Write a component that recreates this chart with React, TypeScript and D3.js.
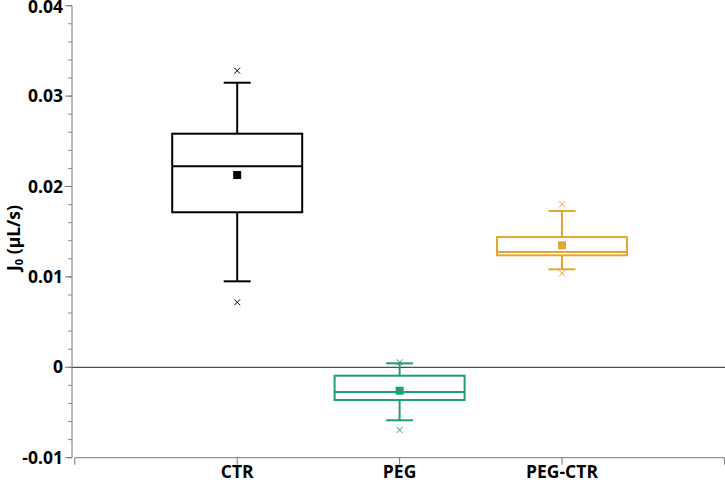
import React from "react";
import * as d3 from "d3";

const categories = ["CTR", "PEG", "PEG-CTR"];
const colors = ["#000000", "#1d9e74", "#e5a532"];
const whiskerLow = [0.00951, -0.00586, 0.01084];
const q1 = [0.01715, -0.00362, 0.01239];
const medians = [0.02223, -0.00273, 0.01275];
const q3 = [0.02584, -0.00093, 0.01441];
const whiskerHigh = [0.03148, 0.00044, 0.01729];
const means = [0.02127, -0.00259, 0.0135];
const outlierLow = [0.00719, -0.00694, 0.0104];
const outlierHigh = [0.03281, 0.00055, 0.01803];
const yTicks = [-0.01, 0, 0.01, 0.02, 0.03, 0.04];
const yTickLabels = ["-0.01", "0", "0.01", "0.02", "0.03", "0.04"];

export default function App() {
  const W = 725, H = 483;
  const axisX = 72;
  const x = d3.scaleLinear().domain([0, 4]).range([74.8, 724.4]);
  const y = d3.scaleLinear().domain([-0.01, 0.04]).range([457.7, 5.7]);
  const minorTicks = d3.range(-0.01, 0.0401, 0.002).map((v) => Math.round(v * 1000) / 1000);
  const boxHalf = 65;
  const capHalf = 13.5;
  const font = "'Open Sans', 'Noto Sans', sans-serif";
  const fs = 17.5;
  return (
    <svg width={W} height={H} style={{ position: "absolute", left: 0, top: 0 }}>
      <rect width={W} height={H} fill="#fff" />
      {/* zero line */}
      <line x1={axisX} x2={W} y1={y(0)} y2={y(0)} stroke="#222" strokeWidth={1} />
      {/* y axis */}
      <line x1={axisX} x2={axisX} y1={y(0.04)} y2={y(-0.01)} stroke="#777" strokeWidth={1} />
      {minorTicks.map((v, i) => (
        <line key={"m" + i} x1={axisX - 4} x2={axisX} y1={y(v)} y2={y(v)} stroke="#888" strokeWidth={1} />
      ))}
      {yTicks.map((v, i) => (
        <g key={"t" + i}>
          <line x1={axisX - 7} x2={axisX} y1={y(v)} y2={y(v)} stroke="#777" strokeWidth={1} />
          <text x={axisX - 9} y={y(v)} dy={i === yTicks.length - 1 ? "0.42em" : "0.35em"} textAnchor="end" fontFamily={font} fontWeight="bold" fontSize={fs} fill="#000">
            {yTickLabels[i]}
          </text>
        </g>
      ))}
      {/* x axis */}
      <line x1={x(0)} x2={x(4)} y1={y(-0.01)} y2={y(-0.01)} stroke="#777" strokeWidth={1} />
      {[0, 1, 2, 3, 4].map((v) => (
        <line key={"xt" + v} x1={x(v)} x2={x(v)} y1={y(-0.01)} y2={y(-0.01) + 7} stroke="#777" strokeWidth={1} />
      ))}
      {categories.map((c, i) => (
        <text key={"xl" + i} x={x(i + 1)} y={478} textAnchor="middle" fontFamily={font} fontWeight="bold" fontSize={fs} fill="#000">
          {c}
        </text>
      ))}
      <text transform={`translate(20, 238) rotate(-90)`} textAnchor="middle" fontFamily={font} fontWeight="bold" fontSize={fs} fill="#000">
        J<tspan fontSize={11} dy={3}>0</tspan><tspan dy={-3}> (µL/s)</tspan>
      </text>
      {/* boxes */}
      {categories.map((c, i) => {
        const cx = x(i + 1);
        const col = colors[i];
        const sw = 2;
        return (
          <g key={"b" + i} stroke={col} fill="none" strokeWidth={sw}>
            <line x1={cx} x2={cx} y1={y(q3[i])} y2={y(whiskerHigh[i])} />
            <line x1={cx} x2={cx} y1={y(q1[i])} y2={y(whiskerLow[i])} />
            <line x1={cx - capHalf} x2={cx + capHalf} y1={y(whiskerHigh[i])} y2={y(whiskerHigh[i])} />
            <line x1={cx - capHalf} x2={cx + capHalf} y1={y(whiskerLow[i])} y2={y(whiskerLow[i])} />
            <rect x={cx - boxHalf} y={y(q3[i])} width={boxHalf * 2} height={y(q1[i]) - y(q3[i])} fill="#fff" />
            <line x1={cx - boxHalf} x2={cx + boxHalf} y1={y(medians[i])} y2={y(medians[i])} />
            <rect x={cx - 4} y={y(means[i]) - 4} width={8} height={8} fill={col} stroke="none" />
            {[outlierLow[i], outlierHigh[i]].map((v, k) => (
              <g key={k} strokeWidth={1}>
                <line x1={cx - 3} x2={cx + 3} y1={y(v) - 3} y2={y(v) + 3} />
                <line x1={cx - 3} x2={cx + 3} y1={y(v) + 3} y2={y(v) - 3} />
              </g>
            ))}
          </g>
        );
      })}
    </svg>
  );
}
